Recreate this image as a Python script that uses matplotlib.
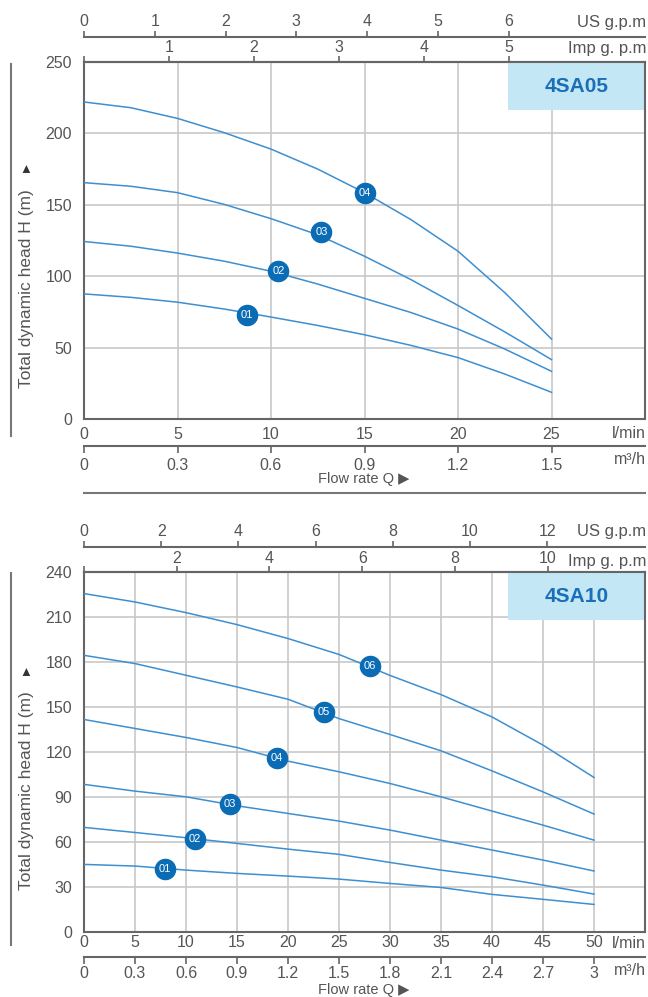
import matplotlib
matplotlib.use("Agg")
import matplotlib.pyplot as plt
from matplotlib.lines import Line2D
from matplotlib.patches import Rectangle

plt.rcParams['font.family'] = ['Liberation Sans', 'DejaVu Sans']

# 4SA05 (flow in l/min, head in m)
q_05 = [0, 2.5, 5, 7.5, 10, 12.5, 15, 17.5, 20, 22.5, 25]
h_05 = {
    "01": [87.6, 85.2, 81.8, 77, 71.4, 65.5, 59, 51.5, 43, 31.5, 18.7],
    "02": [124.3, 121, 116.2, 110.5, 103.5, 94.5, 84.5, 74.5, 63, 49, 33.4],
    "03": [165.5, 163, 158.5, 150.3, 140.3, 129, 114, 97.5, 79.5, 61, 41.6],
    "04": [222, 218, 210.5, 200.5, 189, 175, 158.5, 139.5, 117.5, 88.5, 56],
}
mark_05 = {"01": (8.7, 72.5), "02": (10.4, 103.5), "03": (12.7, 130.9), "04": (15.0, 158.5)}

# 4SA10
q_10 = [0, 5, 10, 15, 20, 25, 30, 35, 40, 45, 50]
h_10 = {
    "01": [44.9, 43.8, 41.1, 38.9, 37.1, 35.1, 32.2, 29.5, 24.9, 21.6, 18.2],
    "02": [69.6, 66.2, 62.7, 58.9, 55.1, 51.6, 46.2, 41.1, 36.7, 31.1, 25.1],
    "03": [98.3, 93.8, 90, 84, 78.9, 73.8, 67.8, 61.1, 54.5, 47.8, 40.5],
    "04": [141.6, 135.6, 129.6, 122.9, 113.8, 106.7, 98.9, 90, 80.5, 71.1, 61.1],
    "05": [184.4, 178.9, 171.1, 163.3, 155.1, 142.2, 131.6, 120.7, 107.3, 93.3, 78.5],
    "06": [225.6, 220, 212.9, 204.9, 195.6, 185, 171, 158.2, 143.3, 124.5, 102.9],
}
mark_10 = {"01": (7.9, 41.8), "02": (10.9, 61.6), "03": (14.3, 84.9),
           "04": (18.9, 116), "05": (23.5, 146.7), "06": (28.0, 177.3)}

W, H = 648, 997
LINE = '#3d8fd1'
MARK = '#0b6cb6'
GRAY = '#555555'
SPINE = '#666666'
FS = 11.5

fig = plt.figure(figsize=(W / 100, H / 100), dpi=100)


def lpm_to_us(q): return q / 3.785
def us_to_lpm(g): return g * 3.785
def lpm_to_imp(q): return q / 4.546
def imp_to_lpm(g): return g * 4.546
def lpm_to_m3h(q): return q * 0.06
def m3h_to_lpm(m): return m / 0.06


def panel(top, bottom, q, curves, marks, title, xlim, xticks, ylim, yticks,
          us_ticks, imp_ticks, m3_ticks, m3_labels, pad_l, us_gap, m3_gap, m3_pad, imp_pad):
    hpx = bottom - top
    ax = fig.add_axes([84 / W, 1 - bottom / H, 561 / W, hpx / H])
    ax.set_xlim(*xlim)
    ax.set_ylim(*ylim)
    ax.set_xticks(xticks)
    ax.set_yticks(yticks)
    ax.grid(True, color='#c8c8c8', lw=1.2)
    ax.set_axisbelow(True)
    for s in ax.spines.values():
        s.set_color(SPINE)
        s.set_linewidth(1.5)
    ax.tick_params(axis='x', length=0, pad=pad_l, labelsize=FS, labelcolor=GRAY)
    ax.tick_params(axis='y', length=0, pad=8.6, labelsize=FS, labelcolor=GRAY)

    for name, h in curves.items():
        ax.plot(q, h, color=LINE, lw=1.1, zorder=3)
    for name, (mq, mh) in marks.items():
        ax.plot(mq, mh, 'o', ms=14.5, color=MARK, zorder=4)
        ax.text(mq, mh, name, color='white', fontsize=8, ha='center', va='center', zorder=5)

    ax.add_patch(Rectangle((0.756, 1 - 48 / hpx), 0.244, 48 / hpx, transform=ax.transAxes,
                           facecolor='#c4e7f5', edgecolor='none', zorder=2))
    ax.text(0.878, 1 - 24 / hpx, title, transform=ax.transAxes, ha='center', va='center',
            fontsize=15, fontweight='bold', color='#1a6fb8', zorder=6)

    # imperial gallons on the top spine, US gallons above
    imp = ax.secondary_xaxis('top', functions=(lpm_to_imp, imp_to_lpm))
    imp.set_xticks(imp_ticks, [''] + [str(t) for t in imp_ticks[1:]])
    imp.tick_params(length=4, width=1.2, color=SPINE, pad=imp_pad, labelsize=FS, labelcolor=GRAY)
    imp.spines['top'].set_color(SPINE)
    imp.spines['top'].set_linewidth(1.5)

    us = ax.secondary_xaxis(1 + us_gap / hpx, functions=(lpm_to_us, us_to_lpm))
    us.set_xticks(us_ticks)
    us.tick_params(length=4, width=1.2, color=SPINE, pad=1.5, labelsize=FS, labelcolor=GRAY)
    us.spines['top'].set_color(SPINE)
    us.spines['top'].set_linewidth(1.5)

    m3 = ax.secondary_xaxis(-m3_gap / hpx, functions=(lpm_to_m3h, m3h_to_lpm))
    m3.set_xticks(m3_ticks, m3_labels)
    m3.tick_params(length=5, width=1.2, color=SPINE, pad=m3_pad, labelsize=FS, labelcolor=GRAY)
    m3.spines['bottom'].set_color(SPINE)
    m3.spines['bottom'].set_linewidth(1.5)
    return ax


ax1 = panel(62, 419, q_05, h_05, mark_05, '4SA05', (0, 30), [0, 5, 10, 15, 20, 25],
            (0, 250), [0, 50, 100, 150, 200, 250],
            [0, 1, 2, 3, 4, 5, 6], [0, 1, 2, 3, 4, 5],
            [0, 0.3, 0.6, 0.9, 1.2, 1.5], ['0', '0.3', '0.6', '0.9', '1.2', '1.5'],
            5.5, 25, 27, 3.5, 1)
ax2 = panel(572, 931.7, q_10, h_10, mark_10, '4SA10', (0, 55), list(range(0, 55, 5)),
            (0, 240), list(range(0, 241, 30)),
            [0, 2, 4, 6, 8, 10, 12], [0, 2, 4, 6, 8, 10],
            [0, 0.3, 0.6, 0.9, 1.2, 1.5, 1.8, 2.1, 2.4, 2.7, 3],
            ['0', '0.3', '0.6', '0.9', '1.2', '1.5', '1.8', '2.1', '2.4', '2.7', '3'],
            2.5, 25, 25, 1.5, 0)


def ftext(x, y, s, **kw):
    kw.setdefault('fontsize', FS)
    kw.setdefault('color', GRAY)
    fig.text(x / W, 1 - y / H, s, **kw)


# unit labels
for y_us, y_imp, y_l, y_m3, y_flow in [(22, 48, 433, 459, 479), (531, 561, 943, 970, 990)]:
    ftext(646, y_us, 'US g.p.m', ha='right', va='center', fontsize=12)
    ftext(646, y_imp, 'Imp g. p.m', ha='right', va='center', fontsize=12)
    ftext(646, y_l, 'l/min', ha='right', va='center')
    ftext(646, y_m3, 'm³/h', ha='right', va='center')
    ftext(364, y_flow, 'Flow rate Q ▶', ha='center', va='center', fontsize=10.5)

# rotated head label with its small arrow above
for y_lab, y_tri in [(289, 168), (791, 671)]:
    ftext(27, y_lab, 'Total dynamic head H (m)', ha='center', va='center', rotation=90, fontsize=12.5)
    ftext(27, y_tri, '▶', ha='center', va='center', rotation=90, fontsize=7.5, color='#333333')

# frame lines
for x0, y0, x1, y1 in [(11, 64, 11, 436), (11, 573, 11, 945), (84, 493, 645, 493)]:
    fig.add_artist(Line2D([x0 / W, x1 / W], [1 - y0 / H, 1 - y1 / H], color='#777777', lw=1.5))

fig.savefig('out.png', dpi=100)
